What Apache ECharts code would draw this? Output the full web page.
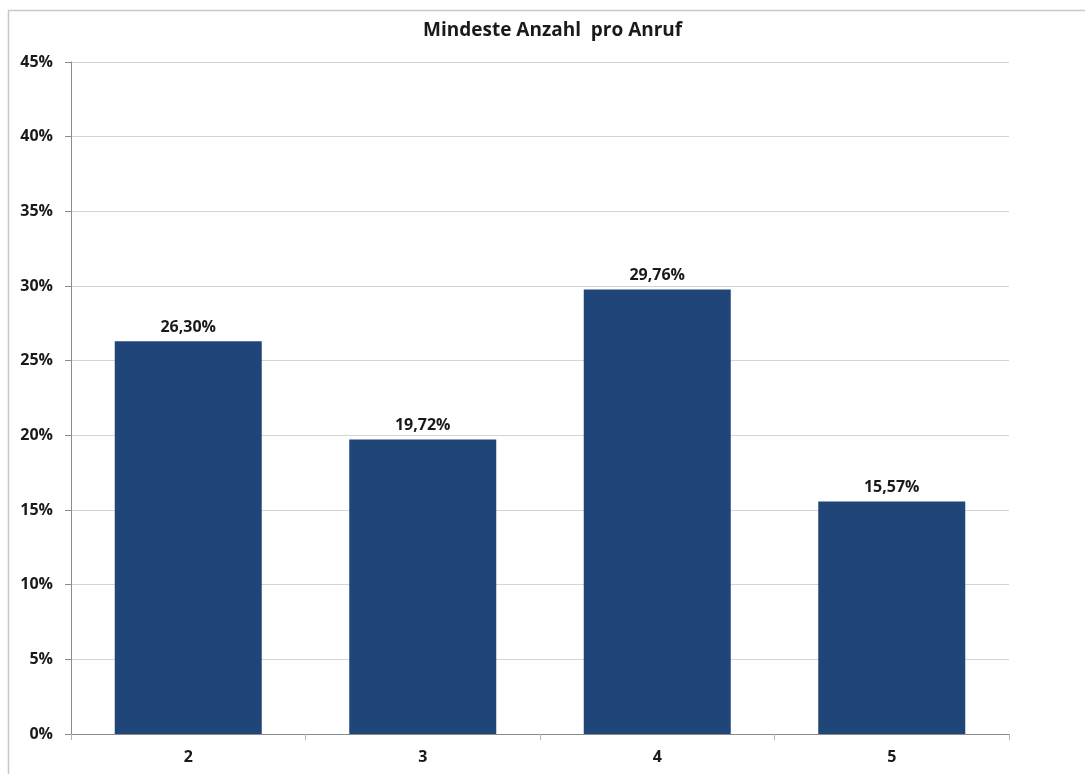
<!DOCTYPE html>
<html>
<head>
<meta charset="utf-8">
<script src="https://cdn.jsdelivr.net/npm/echarts@6/dist/echarts.min.js"></script>
<style>
  html, body { margin: 0; padding: 0; background: #fff; }
  #chart { width: 1085px; height: 774px; }
</style>
</head>
<body>
<div id="chart"></div>
<script>
// Mindeste Anzahl pro Anruf
const categories = ['2', '3', '4', '5'];
const shares = [26.30, 19.72, 29.76, 15.57];

const BAR = '#1f4579';
const TXT = '#1a1a1a';
const FONT = '"Open Sans", "Liberation Sans", sans-serif';

const fmtPct = v => v.toFixed(2).replace('.', ',') + '%';

const chart = echarts.init(document.getElementById('chart'), null, { renderer: 'canvas' });

chart.setOption({
  animation: false,
  backgroundColor: '#fff',
  textStyle: { fontFamily: FONT },
  title: {
    text: 'Mindeste Anzahl  pro Anruf',
    left: 418, top: 16,
    textStyle: { fontSize: 19, fontWeight: 'bold', color: TXT, fontFamily: FONT },
  },
  // Rahmen des Diagrammbereichs
  graphic: [{
    type: 'rect', silent: true, z: -1,
    shape: { x: 8.5, y: 10.5, width: 1100, height: 800 },
    style: { fill: 'none', stroke: '#c8c8c8', lineWidth: 1.5 },
  }],
  grid: { left: 71, right: 76, top: 62, bottom: 40 },
  xAxis: {
    type: 'category', data: categories,
    axisLine: { lineStyle: { color: '#8a8a8a', width: 1 } },
    axisTick: { show: true, length: 6, lineStyle: { color: '#b0b0b0' } },
    axisLabel: { color: TXT, fontSize: 16, fontWeight: 'bold', margin: 15, fontFamily: FONT },
  },
  yAxis: {
    type: 'value', min: 0, max: 45, interval: 5,
    axisLine: { show: true, lineStyle: { color: '#8a8a8a', width: 1 } },
    axisTick: { show: true, length: 6, lineStyle: { color: '#8a8a8a' } },
    axisLabel: { color: TXT, fontSize: 16, fontWeight: 'bold', margin: 18, fontFamily: FONT,
      formatter: v => v + '%' },
    splitLine: { lineStyle: { color: '#d4d4d4', width: 1 } },
  },
  series: [{
    type: 'bar', data: shares, barWidth: 147,
    itemStyle: { color: BAR },
    label: {
      show: true, position: 'top', distance: 6,
      color: TXT, fontSize: 16, fontWeight: 'bold', fontFamily: FONT,
      formatter: p => fmtPct(p.value),
    },
  }],
});
</script>
</body>
</html>
